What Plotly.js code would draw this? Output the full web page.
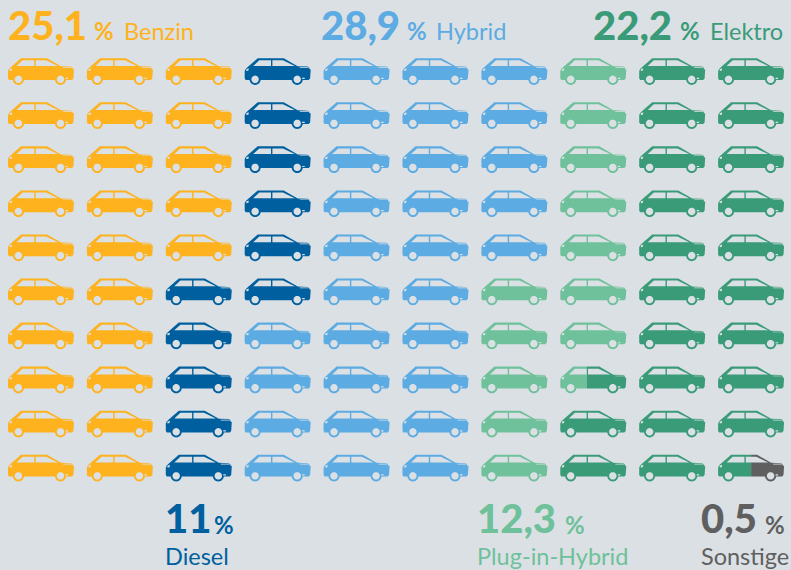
<!DOCTYPE html>
<html>
<head>
<meta charset="utf-8">
<script src="https://cdn.plot.ly/plotly-3.0.1.min.js"></script>
<style>html,body{margin:0;padding:0;background:#DBE0E4;}#chart{width:791px;height:570px;}</style>
</head>
<body>
<div id="chart"></div>
<script>
// ---- data ----
var categories  = ["Benzin", "Diesel", "Hybrid", "Plug-in-Hybrid", "Elektro", "Sonstige"];
var valueLabels = ["25,1", "11", "28,9", "12,3", "22,2", "0,5"];
var carsFilled  = [25, 11, 29, 12.4, 22.1, 0.5];   // cars per category as drawn (column by column)
var colors      = ["#FDB21E", "#00609F", "#5CABE2", "#6FC19B", "#3A9B78", "#5F5F5F"];
var background  = "#DBE0E4";
var gridCols = 10, gridRows = 10;

// ---- car glyph (local units, 66 x 27) ----
var GW = 66, GH = 27;
var CELL_W = 78.9, CELL_H = 44.06;
var body = [[0,20.5],[0,13],[1,11],[3,9],[13,0.2],[39,0.2],[53,8.3],[63,8.6],[64.6,9.6],[64.6,11],[66,11.5],[65.4,20.5],[64,22],[1,22]];
var windows = [
  [[8.5,8],[14.6,2.3],[26.3,2.3],[26.3,8]],
  [[27.7,8],[27.7,2.3],[38.2,2.3],[50,8]]
];
var marks = [
  [[1.6,11.2],[4,10.3],[3.8,12.6],[1.6,13]],
  [[57.5,21],[60,21],[60,19.8],[57.5,19.8]],
  [[55,9.3],[64,9.3],[64,9.9],[55,9.9]]
];
var wheelCenters = [[10.4,21.3],[52.5,21.3]];
var wheelOuter = 5.6, wheelInner = 3.7;

function circle(c, r) {
  var pts = [];
  for (var i = 0; i < 28; i++) {
    var a = i / 28 * 2 * Math.PI;
    pts.push([c[0] + r * Math.cos(a), c[1] + r * Math.sin(a)]);
  }
  return pts;
}
function clipSide(poly, limit, keepLeft) {
  var out = [];
  function inside(p) { return keepLeft ? p[0] <= limit : p[0] >= limit; }
  for (var i = 0; i < poly.length; i++) {
    var p = poly[i], q = poly[(i + 1) % poly.length];
    if (inside(p)) out.push(p);
    if (inside(p) !== inside(q)) {
      var t = (limit - p[0]) / (q[0] - p[0]);
      out.push([limit, p[1] + t * (q[1] - p[1])]);
    }
  }
  return out;
}
function clip(poly, a, b) {
  return clipSide(clipSide(poly, a, false), b, true);
}

var bins = colors.map(function () { return { x: [], y: [] }; });
var holes = { x: [], y: [] };
function addPoly(bin, poly, col, row) {
  if (!poly.length) return;
  poly.concat([poly[0]]).forEach(function (p) {
    bin.x.push(col + (p[0] - GW / 2) / CELL_W);
    bin.y.push(row + (p[1] - GH / 2) / CELL_H);
  });
  bin.x.push(null); bin.y.push(null);
}

// walk the cars column by column, top to bottom, handing out each category's share
var remaining = carsFilled.slice(), current = 0;
for (var c = 0; c < gridCols; c++) {
  for (var r = 0; r < gridRows; r++) {
    var filled = 0;
    while (filled < 0.9999 && current < remaining.length) {
      var take = Math.min(1 - filled, remaining[current]);
      var a = filled * GW, b = (filled + take) * GW;
      var parts = [body].concat(wheelCenters.map(function (w) { return circle(w, wheelOuter); }));
      for (var k = 0; k < parts.length; k++) {
        addPoly(bins[current], clip(parts[k], a, b), c, r);
      }
      filled += take;
      remaining[current] -= take;
      if (remaining[current] < 1e-6) current++;
    }
    windows.concat(marks).forEach(function (w) { addPoly(holes, w, c, r); });
    wheelCenters.forEach(function (w) { addPoly(holes, circle(w, wheelInner), c, r); });
  }
}

var traces = bins.map(function (b, i) {
  return { type: "scatter", mode: "lines", x: b.x, y: b.y, name: categories[i],
           fill: "toself", fillcolor: colors[i], line: { width: 0, simplify: false },
           hoverinfo: "name", showlegend: false };
});
traces.push({ type: "scatter", mode: "lines", x: holes.x, y: holes.y, fill: "toself",
              fillcolor: background, line: { width: 0, simplify: false },
              hoverinfo: "skip", showlegend: false });

// ---- header / footer texts ----
var W = 791, H = 570;
var textFont = "Lato, sans-serif";
// value x, percent x, label x, value mid y, label mid y
var places = [
  [8, 94, 124, 25, 31],
  [165, 214, 165, 518, 555.5],
  [321, 407, 436, 25, 31],
  [477, 565, 477, 518, 555.5],
  [593, 680, 710, 25, 31],
  [701, 765, 701, 518, 555.5]
];
function note(text, px, py, size, color, weight) {
  return { text: text, xref: "paper", yref: "paper",
           x: px / W, y: 1 - py / H, xanchor: "left", yanchor: "middle",
           showarrow: false, align: "left", borderpad: 0, borderwidth: 0,
           font: { family: textFont, size: size, color: color, weight: weight } };
}
var annotations = [];
categories.forEach(function (name, i) {
  var p = places[i];
  annotations.push(note(valueLabels[i], p[0], p[3], 40, colors[i], 900));
  annotations.push(note("%", p[1], p[3] + 6, 24, colors[i], 700));
  annotations.push(note(name, p[2], p[4], 23.5, colors[i], 400));
});

// car centres land at px 41 + 78.9*col, 71.5 + 44.06*row
var layout = {
  width: W, height: H,
  margin: { l: 0, r: 0, t: 0, b: 0 },
  paper_bgcolor: background, plot_bgcolor: background,
  showlegend: false,
  xaxis: { visible: false, range: [-41 / CELL_W, (W - 41) / CELL_W], fixedrange: true },
  yaxis: { visible: false, range: [(H - 71.5) / CELL_H, -71.5 / CELL_H], fixedrange: true },
  annotations: annotations
};
Plotly.newPlot("chart", traces, layout, { staticPlot: true, displayModeBar: false });
</script>
</body>
</html>
